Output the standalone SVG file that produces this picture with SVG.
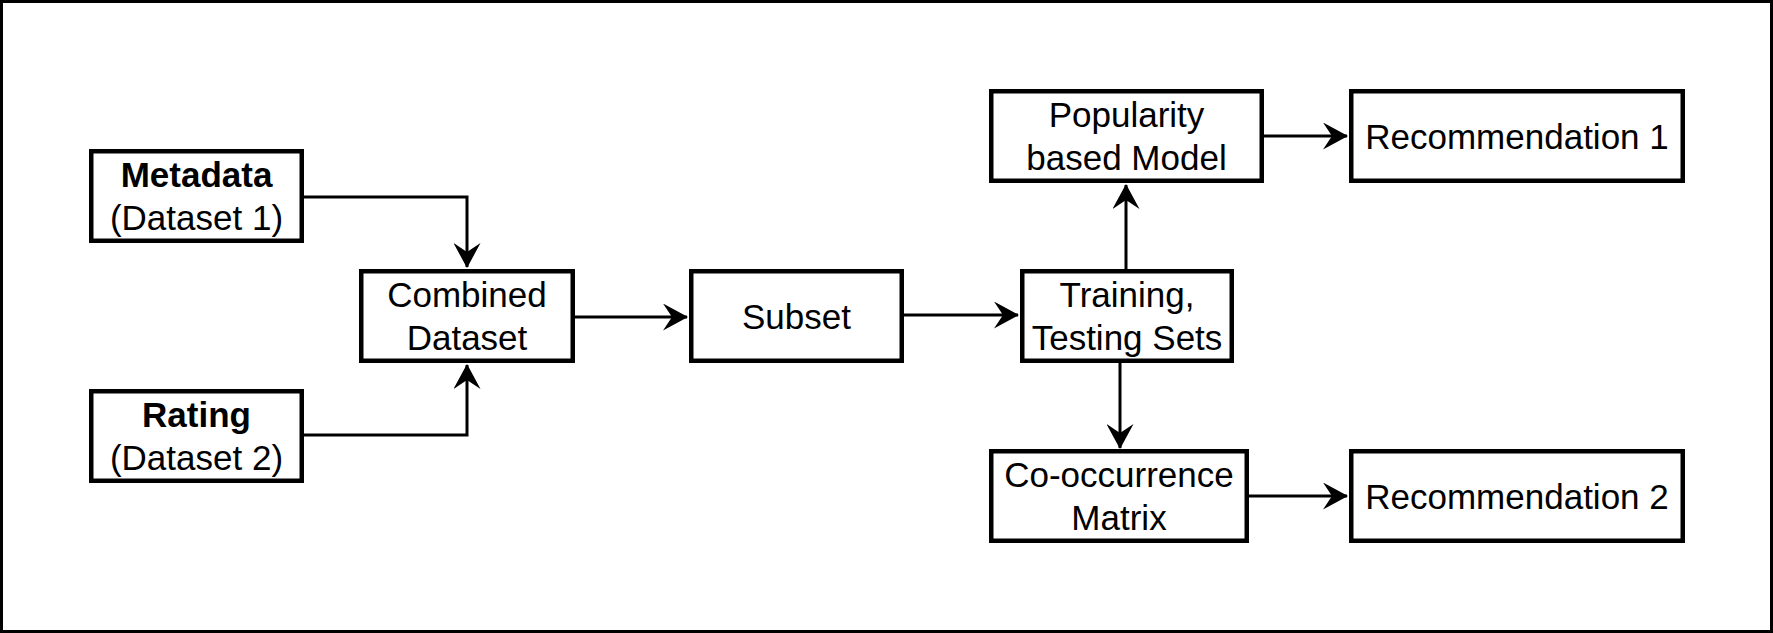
<svg xmlns="http://www.w3.org/2000/svg" width="1773" height="633" viewBox="0 0 1773 633">
<style>
.box{fill:#fff;stroke:#000;stroke-width:4.5}
.t{font-family:"Liberation Sans",Arial,sans-serif;font-size:35px;fill:#000;text-anchor:middle}
.b{font-weight:bold}
.c{fill:none;stroke:#000;stroke-width:3}
</style>
<defs>
<marker id="arr" markerUnits="userSpaceOnUse" viewBox="0 0 25 27" markerWidth="25" markerHeight="27" refX="24" refY="13.5" orient="auto">
<path d="M0,0 L25,13.5 L0,27 L9,13.5 Z" fill="#000"/>
</marker>
</defs>
<rect x="1.5" y="1.5" width="1770" height="630" fill="#fff" stroke="#000" stroke-width="3"/>
<g id="connectors">
<path class="c" d="M304,197 H467 V267" marker-end="url(#arr)"/>
<path class="c" d="M304,435 H467 V365" marker-end="url(#arr)"/>
<path class="c" d="M575,317 H687" marker-end="url(#arr)"/>
<path class="c" d="M904,315 H1018" marker-end="url(#arr)"/>
<path class="c" d="M1126,269 V185" marker-end="url(#arr)"/>
<path class="c" d="M1120,363 V448" marker-end="url(#arr)"/>
<path class="c" d="M1264,136 H1347" marker-end="url(#arr)"/>
<path class="c" d="M1249,496 H1347" marker-end="url(#arr)"/>
</g>
<g id="metadata">
<rect class="box" x="91.25" y="151.25" width="210.5" height="89.5"/>
<text class="t b" x="196.5" y="187">Metadata</text>
<text class="t" x="196.5" y="230">(Dataset 1)</text>
</g>
<g id="rating">
<rect class="box" x="91.25" y="391.25" width="210.5" height="89.5"/>
<text class="t b" x="196.5" y="427">Rating</text>
<text class="t" x="196.5" y="470">(Dataset 2)</text>
</g>
<g id="combined">
<rect class="box" x="361.25" y="271.25" width="211.5" height="89.5"/>
<text class="t" x="467" y="307">Combined</text>
<text class="t" x="467" y="350">Dataset</text>
</g>
<g id="subset">
<rect class="box" x="691.25" y="271.25" width="210.5" height="89.5"/>
<text class="t" x="796.5" y="329">Subset</text>
</g>
<g id="training">
<rect class="box" x="1022.25" y="271.25" width="209.5" height="89.5"/>
<text class="t" x="1127" y="307">Training,</text>
<text class="t" x="1127" y="350">Testing Sets</text>
</g>
<g id="popularity">
<rect class="box" x="991.25" y="91.25" width="270.5" height="89.5"/>
<text class="t" x="1126.5" y="127">Popularity</text>
<text class="t" x="1126.5" y="170">based Model</text>
</g>
<g id="cooccurrence">
<rect class="box" x="991.25" y="451.25" width="255.5" height="89.5"/>
<text class="t" x="1119" y="487">Co-occurrence</text>
<text class="t" x="1119" y="530">Matrix</text>
</g>
<g id="rec1">
<rect class="box" x="1351.25" y="91.25" width="331.5" height="89.5"/>
<text class="t" x="1517" y="149">Recommendation 1</text>
</g>
<g id="rec2">
<rect class="box" x="1351.25" y="451.25" width="331.5" height="89.5"/>
<text class="t" x="1517" y="509">Recommendation 2</text>
</g>
</svg>
